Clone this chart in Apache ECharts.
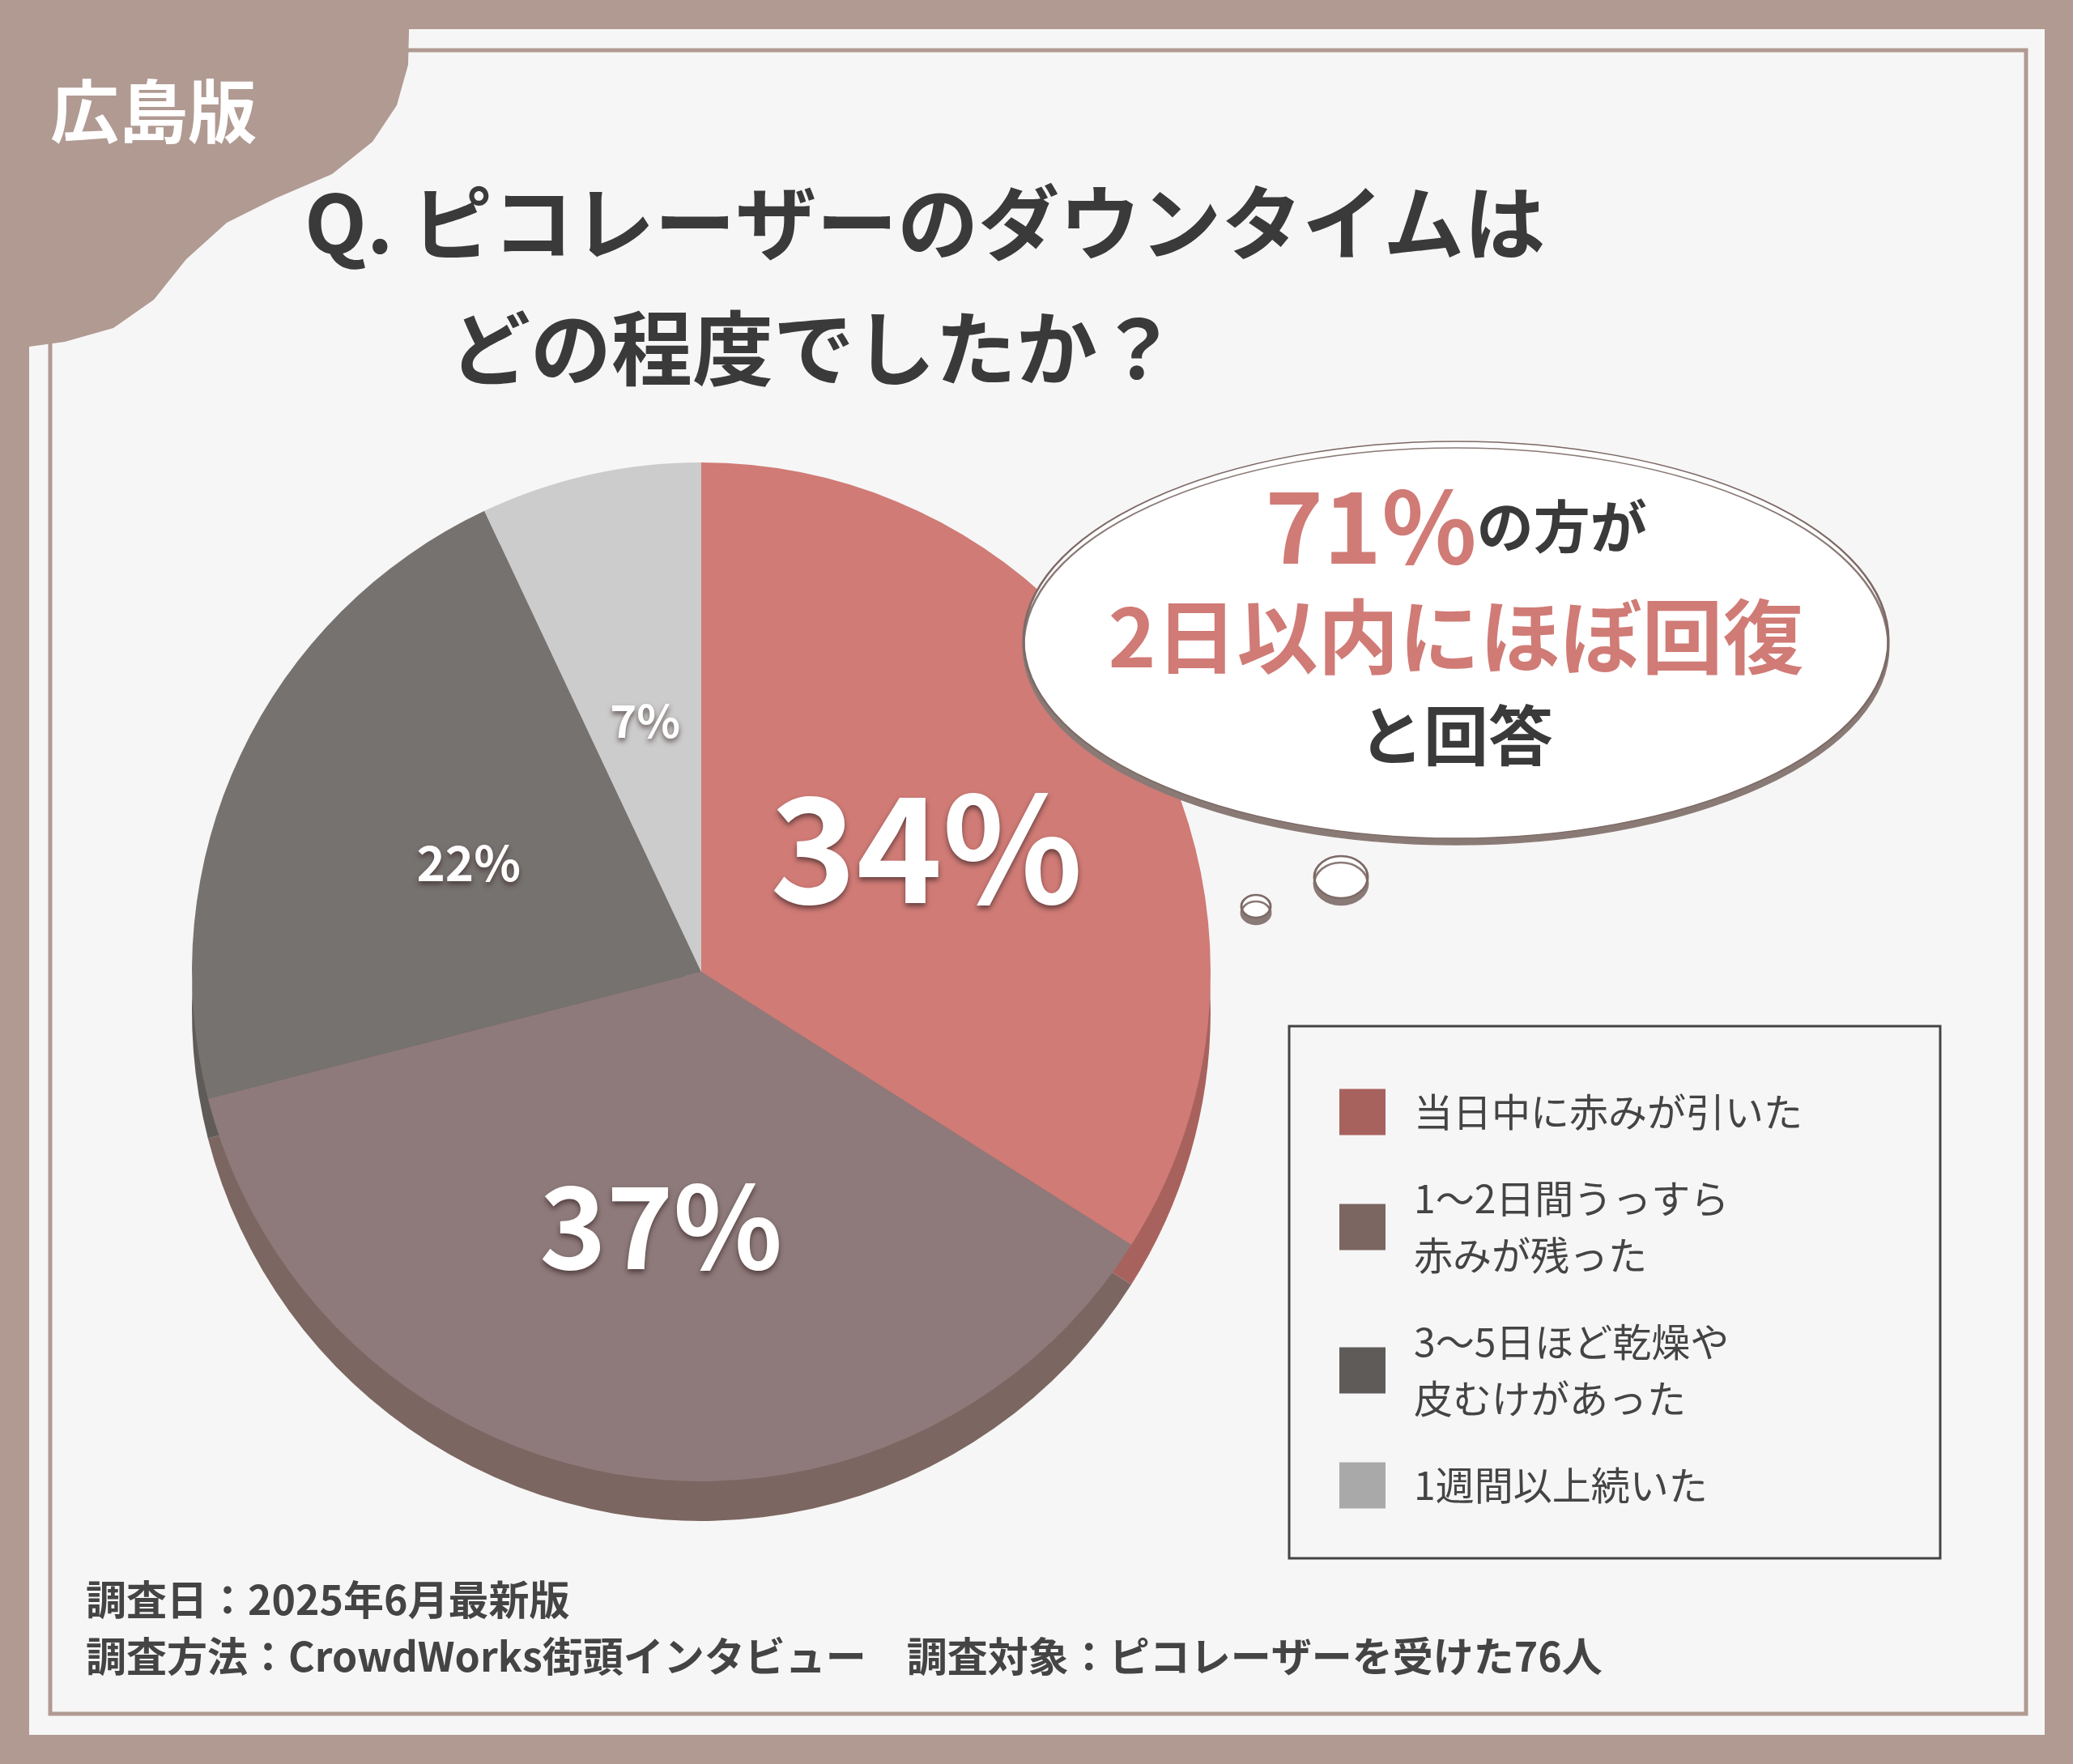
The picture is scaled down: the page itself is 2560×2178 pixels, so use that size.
<!DOCTYPE html>
<html>
<head>
<meta charset="utf-8">
<title>ピコレーザーのダウンタイム</title>
<script src="https://cdn.jsdelivr.net/npm/echarts@6/dist/echarts.min.js"></script>
<style>html,body{margin:0;padding:0;background:#b09a92;}</style>
</head>
<body>
<div id="main" style="width:2560px;height:2178px;"></div>
<script>
// データ
var categories = ['当日中に赤みが引いた', '1〜2日間うっすら赤みが残った', '3〜5日ほど乾燥や皮むけがあった', '1週間以上続いた'];
var legendLabels = ['当日中に赤みが引いた', '1〜2日間うっすら\n赤みが残った', '3〜5日ほど乾燥や\n皮むけがあった', '1週間以上続いた'];
var values = [34, 37, 22, 7];
var colors = ['#d07b76', '#8e7a7a', '#767270', '#cccccc'];
var shadowColors = ['#a8625e', '#7b6661', '#5f5b59', '#a9a9a9'];
var labelSizes = [180, 140, 60, 56];

var font = '"Noto Sans CJK JP", "Noto Sans", sans-serif';
var myChart = echarts.init(document.getElementById('main'));

// 楕円（circle を縦に縮める）
function bubble(cx, cy, rx, ry, lw) {
    return { type: 'circle', z: 5, x: cx, y: cy, scaleY: ry / rx, shape: { cx: 0, cy: 0, r: rx },
        style: { fill: '#fff', stroke: '#7d6a66', lineWidth: lw, shadowOffsetY: 8, shadowColor: '#8a7a76' } };
}

var option = {
    backgroundColor: '#b09a92',
    color: colors,
    legend: {
        orient: 'vertical',
        left: 1649, top: 1333,
        itemWidth: 57, itemHeight: 57, itemGap: 37,
        icon: 'rect',
        data: categories,
        formatter: function (name) { return legendLabels[categories.indexOf(name)]; },
        textStyle: { fontFamily: font, fontSize: 48, lineHeight: 70, color: '#444', padding: [0, 0, 0, 30] }
    },
    graphic: [
        { type: 'rect', z: -10, shape: { x: 36, y: 36, width: 2489, height: 2106 }, style: { fill: '#f7f6f6' } },
        { type: 'rect', z: -9, shape: { x: 62, y: 62, width: 2440, height: 2054 }, style: { fill: 'none', stroke: '#b09a92', lineWidth: 5 } },
        { type: 'polygon', z: -8, shape: { points: [[0, 0], [506, 0], [504, 80], [490, 130], [460, 175], [410, 215], [340, 245], [280, 275], [230, 320], [190, 370], [140, 405], [80, 422], [36, 428], [0, 433]] }, style: { fill: '#b09a92' } },
        { type: 'text', left: 62, top: 95, style: { text: '広島版', fill: '#fff', font: 'bold 85px ' + font } },
        { type: 'text', left: 376, top: 225, style: { text: 'Q. ピコレーザーのダウンタイムは', fill: '#3a3a3a', font: 'bold 100px ' + font } },
        { type: 'text', left: 555, top: 380, style: { text: 'どの程度でしたか？', fill: '#3a3a3a', font: 'bold 100px ' + font } },
        // 吹き出し
        bubble(1798, 790, 534, 245, 3),
        bubble(1656, 1083, 33, 26, 3),
        bubble(1551, 1119, 18, 14, 3),
        { type: 'text', z: 6, x: 1798, y: 650, style: { text: '{a|71%}{b|の方が}', align: 'center', verticalAlign: 'middle',
            rich: { a: { fill: '#d07b76', font: 'bold 122px ' + font }, b: { fill: '#3a3a3a', font: 'bold 70px ' + font } } } },
        { type: 'text', z: 6, x: 1798, y: 786, style: { text: '2日以内にほぼ回復', align: 'center', verticalAlign: 'middle', fill: '#d07b76', font: 'bold 100px ' + font } },
        { type: 'text', z: 6, x: 1798, y: 908, style: { text: 'と回答', align: 'center', verticalAlign: 'middle', fill: '#3a3a3a', font: 'bold 80px ' + font } },
        // 凡例枠
        { type: 'rect', z: 1, shape: { x: 1592, y: 1267, width: 804, height: 657 }, style: { fill: '#f7f6f6', stroke: '#444', lineWidth: 3 } },
        // 調査概要
        { type: 'text', left: 106, top: 1950, style: { text: '調査日：2025年6月最新版', fill: '#444', font: 'bold 50px ' + font } },
        { type: 'text', left: 106, top: 2020, style: { text: '調査方法：CrowdWorks街頭インタビュー　調査対象：ピコレーザーを受けた76人', fill: '#444', font: 'bold 50px ' + font } }
    ],
    series: [
        {
            type: 'pie', silent: true, z: 1,
            center: [866, 1249], radius: 629, startAngle: 90,
            label: { show: false },
            data: values.map(function (v, i) { return { value: v, name: categories[i], itemStyle: { color: shadowColors[i] } }; })
        },
        {
            type: 'pie', z: 2,
            center: [866, 1200], radius: 629, startAngle: 90,
            itemStyle: { borderWidth: 0 },
            label: {
                position: 'inside',
                formatter: '{c}%',
                color: '#fff', fontFamily: font, fontWeight: 'bold',
                textShadowColor: 'rgba(60,40,40,0.7)', textShadowBlur: 6, textShadowOffsetY: 4
            },
            data: values.map(function (v, i) { return { value: v, name: categories[i], label: { fontSize: labelSizes[i] } }; })
        }
    ]
};
myChart.setOption(option);
</script>
</body>
</html>
